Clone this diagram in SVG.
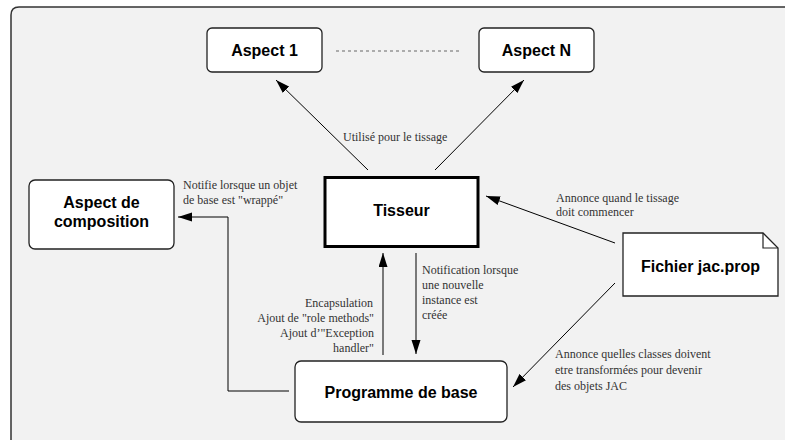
<svg xmlns="http://www.w3.org/2000/svg" width="785" height="440" viewBox="0 0 785 440">
<defs>
<marker id="ah" markerUnits="userSpaceOnUse" markerWidth="15" markerHeight="10" refX="14" refY="4.5" orient="auto">
<path d="M0,0 L14,4.5 L0,9 z" fill="#000"/>
</marker>
<style>
.node{fill:#fff;stroke:#222;stroke-width:1.3}
.nt{font-family:"Liberation Sans",Arial,sans-serif;font-weight:bold;font-size:16px;fill:#000;text-anchor:middle}
.lb{font-family:"Liberation Serif","Times New Roman",Times,serif;font-size:12px;fill:#333}
.cn{fill:none;stroke:#000;stroke-width:1}
</style>
</defs>
<rect x="0" y="0" width="785" height="440" fill="#fff"/>
<rect x="11" y="7" width="790" height="450" rx="8" fill="#f2f2f2"/>
<path d="M11,460 L11,15 Q11,7 19,7 L800,7" fill="none" stroke="#333" stroke-width="1.5"/>

<g id="connectors">
<line x1="336" y1="51" x2="460" y2="51" stroke="#666" stroke-width="1" stroke-dasharray="3,3"/>
<line class="cn" x1="368" y1="170" x2="276" y2="80" marker-end="url(#ah)"/>
<line class="cn" x1="435" y1="170" x2="524" y2="80" marker-end="url(#ah)"/>
<line class="cn" x1="615" y1="243" x2="486" y2="196" marker-end="url(#ah)"/>
<line class="cn" x1="615" y1="283" x2="513" y2="387" marker-end="url(#ah)"/>
<line class="cn" x1="383" y1="355" x2="383" y2="253" marker-end="url(#ah)"/>
<line class="cn" x1="416" y1="253" x2="416" y2="354" marker-end="url(#ah)"/>
<polyline class="cn" points="289,391 228,391 228,217 178,217" marker-end="url(#ah)"/>
<text class="lb" x="343" y="141">Utilisé pour le tissage</text>
<text class="lb" x="183" y="189">Notifie lorsque un objet</text>
<text class="lb" x="183" y="204">de base est "wrappé"</text>
<text class="lb" x="556" y="202">Annonce quand le tissage</text>
<text class="lb" x="556" y="216">doit commencer</text>
<text class="lb" x="422" y="274">Notification lorsque</text>
<text class="lb" x="422" y="289">une nouvelle</text>
<text class="lb" x="422" y="304">instance est</text>
<text class="lb" x="422" y="319">créée</text>
<text class="lb" x="373" y="307" text-anchor="end">Encapsulation</text>
<text class="lb" x="374" y="322" text-anchor="end">Ajout de "role methods"</text>
<text class="lb" x="374" y="337" text-anchor="end">Ajout d’"Exception</text>
<text class="lb" x="374" y="352" text-anchor="end">handler"</text>
<text class="lb" x="555" y="358">Annonce quelles classes doivent</text>
<text class="lb" x="555" y="374">etre transformées pour devenir</text>
<text class="lb" x="555" y="390">des objets JAC</text>
</g>

<g id="aspect1">
<rect class="node" x="207" y="28" width="115" height="44" rx="5"/>
<text class="nt" x="264.5" y="56">Aspect 1</text>
</g>
<g id="aspectN">
<rect class="node" x="479" y="28" width="115" height="44" rx="5"/>
<text class="nt" x="536.5" y="56">Aspect N</text>
</g>
<g id="tisseur">
<rect x="325" y="177.5" width="153" height="69" fill="#fff" stroke="#000" stroke-width="3"/>
<text class="nt" x="401.5" y="216">Tisseur</text>
</g>
<g id="aspect-composition">
<rect class="node" x="29" y="180" width="145" height="69" rx="6"/>
<text class="nt" x="101.5" y="208">Aspect de</text>
<text class="nt" x="101.5" y="227">composition</text>
</g>
<g id="programme">
<rect class="node" x="295" y="361" width="212" height="61" rx="6"/>
<text class="nt" x="401" y="398">Programme de base</text>
</g>
<g id="fichier">
<path class="node" d="M623,233 L763,233 L778,248 L778,296 L623,296 z"/>
<path d="M763,233 L763,248 L778,248" fill="none" stroke="#222" stroke-width="1.2"/>
<text class="nt" x="700.5" y="272">Fichier jac.prop</text>
</g>
</svg>
